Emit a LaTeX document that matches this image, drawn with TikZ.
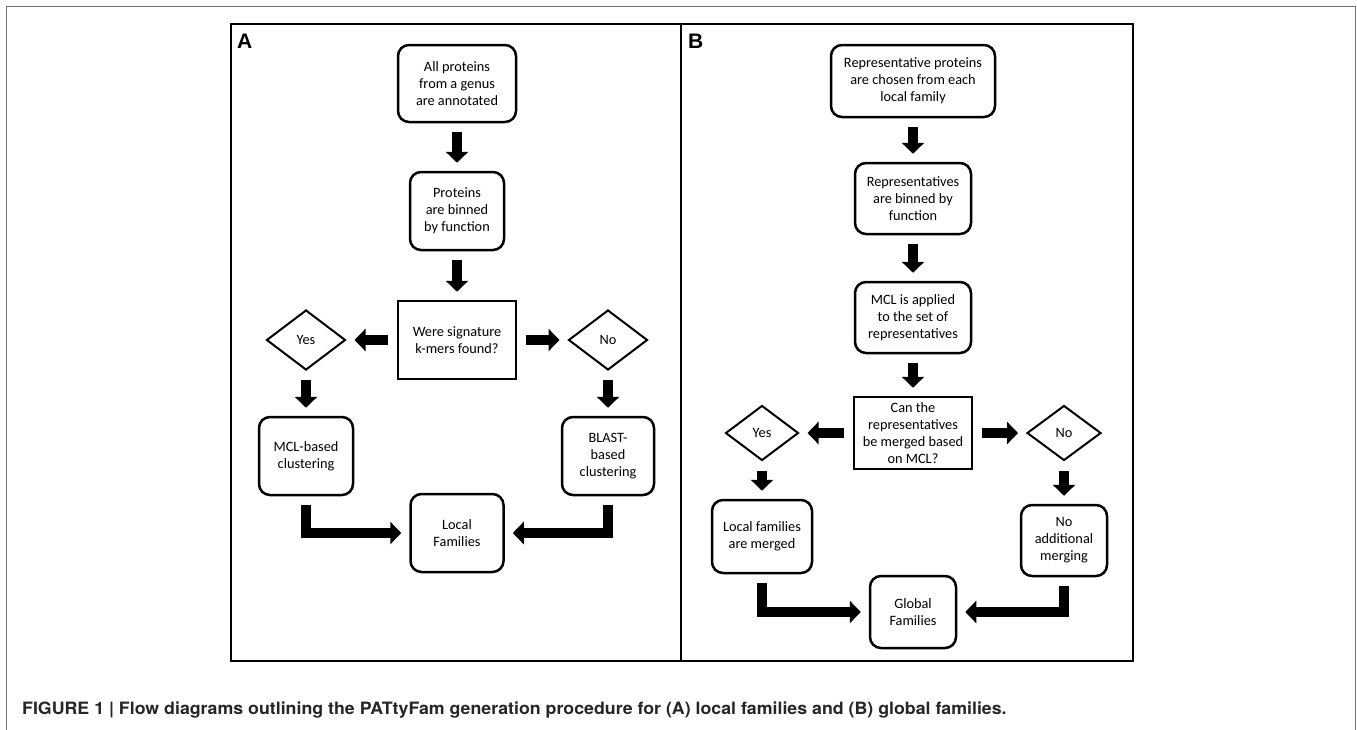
\documentclass[tikz,border=0pt]{standalone}
\usepackage{fontspec}
\setmainfont{Carlito}
\newfontfamily\headfont{Liberation Sans}
\newfontfamily\capfont{TeX Gyre Heros}
\usetikzlibrary{arrows.meta,shapes.geometric}

\begin{document}
\begin{tikzpicture}[x=1pt,y=-1pt,
    fat/.style={line width=10.5pt,-{Triangle[width=22pt,length=11pt]},shorten <=9pt,shorten >=8pt},
    box/.style={draw,line width=2.5pt,rounded corners=11pt,align=center,inner sep=2pt,font=\fontsize{14.3}{17}\selectfont},
    ask/.style={box,sharp corners},
    dia/.style={draw,diamond,line width=2pt,inner sep=0pt,font=\fontsize{14.3}{17}\selectfont},
    panel/.style={font=\headfont\bfseries\fontsize{21}{21}\selectfont,inner sep=0pt,anchor=base west}]
    \useasboundingbox (0,0) rectangle (1357,729);
    \draw[black!55,line width=1pt] (6,745) -- (6,6) -- (1355,6) -- (1355,745);
    \draw[line width=2pt] (231,24) rectangle (1133,661);
    \draw[line width=2pt] (681,24) -- (681,661);
    \node[panel] (P_A) at (237,48) {A};
    \node[panel] (P_B) at (688,48) {B};
    % panel A
    \node[box,minimum width=118pt,minimum height=77pt] (A_0) at (457,83.5) {All proteins\\from a genus\\are annotated};
    \node[box,minimum width=94pt,minimum height=78pt] (A_1) at (457,211) {Proteins\\are binned\\by function};
    \node[ask,minimum width=118pt,minimum height=78pt] (A_2) at (457,340) {Were signature\\k-mers found?};
    \node[dia,minimum width=79pt,minimum height=60pt] (A_3) at (306,340) {Yes};
    \node[dia,minimum width=79pt,minimum height=60pt] (A_4) at (608,340) {No};
    \node[box,minimum width=94pt,minimum height=78pt] (A_5) at (306,456) {MCL-based\\clustering};
    \node[box,minimum width=92pt,minimum height=78pt] (A_6) at (608,456) {BLAST-\\based\\clustering};
    \node[box,minimum width=93pt,minimum height=78pt] (A_7) at (457,533) {Local\\Families};
    \draw[fat] (A_0) -- (A_1);
    \draw[fat] (A_1) -- (A_2);
    \draw[fat] (A_2) -- (A_3);
    \draw[fat] (A_2) -- (A_4);
    \draw[fat] (A_3) -- (A_5);
    \draw[fat] (A_4) -- (A_6);
    \draw[fat] (A_5) |- (A_7);
    \draw[fat] (A_6) |- (A_7);
    % panel B
    \node[box,minimum width=164pt,minimum height=72pt] (B_0) at (913,81) {Representative proteins\\are chosen from each\\local family};
    \node[box,minimum width=116pt,minimum height=71pt] (B_1) at (913,198.5) {Representatives\\are binned by\\function};
    \node[box,minimum width=116pt,minimum height=71pt] (B_2) at (913,317.5) {MCL is applied\\to the set of\\representatives};
    \node[ask,minimum width=118pt,minimum height=72pt,inner sep=1pt] (B_3) at (913,433) {Can the\\representatives\\be merged based\\on MCL?};
    \node[dia,minimum width=73pt,minimum height=55pt] (B_4) at (762,433) {Yes};
    \node[dia,minimum width=74pt,minimum height=55pt] (B_5) at (1064,433) {No};
    \node[box,minimum width=100pt,minimum height=73pt] (B_6) at (762,536.5) {Local families\\are merged};
    \node[box,minimum width=86pt,minimum height=71pt] (B_7) at (1064,540.5) {No\\additional\\merging};
    \node[box,minimum width=86pt,minimum height=72pt] (B_8) at (913,612) {Global\\Families};
    \draw[fat] (B_0) -- (B_1);
    \draw[fat] (B_1) -- (B_2);
    \draw[fat] (B_2) -- (B_3);
    \draw[fat] (B_3) -- (B_4);
    \draw[fat] (B_3) -- (B_5);
    \draw[fat] (B_4) -- (B_6);
    \draw[fat] (B_5) -- (B_7);
    \draw[fat] (B_6) |- (B_8);
    \draw[fat] (B_7) |- (B_8);
    \node[anchor=base west,inner sep=0pt,text=black!85,font=\capfont\bfseries\fontsize{17}{20}\selectfont] (cap) at (22,714)
        {\scalebox{1.045}[1]{FIGURE 1 | Flow diagrams outlining the PATtyFam generation procedure for (A) local families and (B) global families.}};
\end{tikzpicture}
\end{document}
